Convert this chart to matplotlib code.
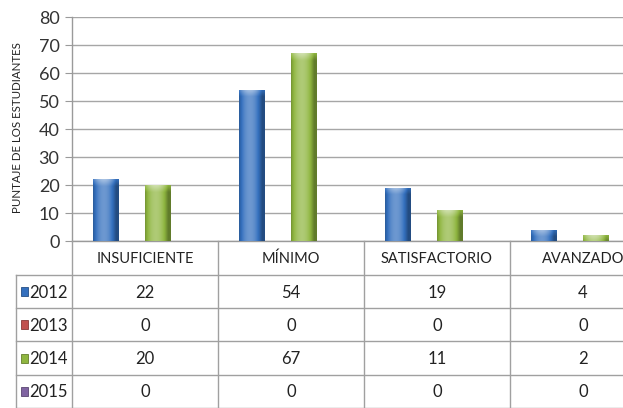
import numpy as np
import matplotlib
matplotlib.use('Agg')
import matplotlib.pyplot as plt
from matplotlib.colors import to_rgb

categories = ['INSUFICIENTE', 'MÍNIMO', 'SATISFACTORIO', 'AVANZADO']
years = ['2012', '2013', '2014', '2015']
v2012 = [22, 54, 19, 4]
v2013 = [0, 0, 0, 0]
v2014 = [20, 67, 11, 2]
v2015 = [0, 0, 0, 0]
yticks = [0, 10, 20, 30, 40, 50, 60, 70, 80]
ylabel = 'PUNTAJE DE LOS ESTUDIANTES'

series = [v2012, v2013, v2014, v2015]
base_colors = ['#3470BE', '#C0504D', '#8FB640', '#8064A2']

W, H = 623, 408
plt.rcParams['font.family'] = ['Lato', 'DejaVu Sans']
fig = plt.figure(figsize=(W / 100, H / 100), dpi=100)
fig.patch.set_facecolor('white')

ax_l, ax_t, ax_b = 72, 17, 241
col_w = 146
ax = fig.add_axes([ax_l / W, (H - ax_b) / H, 4 * col_w / W, (ax_b - ax_t) / H])
ax.set_xlim(-0.5, 3.5)
ax.set_ylim(0, 80)
ax.set_yticks(yticks)
ax.set_xticks([])
ax.tick_params(axis='y', length=5, color='#9a9a9a', labelsize=13, labelcolor='#333333', pad=4)
ax.grid(axis='y', color='#a6a6a6', linewidth=1)
ax.set_axisbelow(True)
for s in ['top', 'right']:
    ax.spines[s].set_visible(False)
for s in ['left', 'bottom']:
    ax.spines[s].set_color('#9a9a9a')
    ax.spines[s].set_linewidth(1)

bw = 0.178
x = np.arange(len(categories))
offsets = [-1.5 * bw, -0.5 * bw, 0.5 * bw, 1.5 * bw]

def shade(c, f):
    c = np.array(to_rgb(c))
    if f >= 0:
        return c + (1 - c) * f
    return c * (1 + f)

px_per_unit = (ax_b - ax_t) / 80.0
for vals, off, col in zip(series, offsets, base_colors):
    bars = ax.bar(x + off, vals, width=bw, color=col, zorder=3)
    for rect, v in zip(bars, vals):
        if v <= 0:
            continue
        nx, ny = 40, 200
        u = np.linspace(0, 1, nx)
        prof = np.clip(0.28 - 2.6 * (u - 0.42) ** 2, -0.32, 0.28)
        img = np.zeros((ny, nx, 3))
        ys = np.linspace(v, 0, ny)
        bevel = 7 / px_per_unit
        for j in range(ny):
            d = v - ys[j]
            extra = 0.3 * (1 - d / bevel) if d < bevel else 0
            for i in range(nx):
                f = prof[i] + extra
                img[j, i] = np.clip(shade(col, f), 0, 1)
        x0 = rect.get_x()
        im = ax.imshow(img, extent=[x0, x0 + bw, 0, v], aspect='auto', zorder=3.5,
                       interpolation='bilinear')
        im.set_clip_path(rect)
ax.set_xlim(-0.5, 3.5)
ax.set_ylim(0, 80)

fig.text(18 / W, 1 - 128 / H, ylabel, rotation=90, ha='center', va='center',
         fontsize=8.3, color='#222222')

# table overlay
tax = fig.add_axes([0, 0, 1, 1])
tax.set_xlim(0, W)
tax.set_ylim(H, 0)
tax.axis('off')
tax.patch.set_visible(False)

def to_px(xd):
    d = ax.transData.transform((xd, 0))
    return d[0]

lc = '#a0a0a0'
header_bot = 275
row_h = 33.2
row_tops = [header_bot + k * row_h for k in range(len(years))]
lab_l = 16
right = W + 50
for yy in row_tops:
    tax.plot([lab_l, right], [yy, yy], color=lc, lw=1)
tax.plot([lab_l, right], [H - 0.5, H - 0.5], color=lc, lw=1)
tax.plot([lab_l, lab_l], [header_bot, H], color=lc, lw=1)
tax.plot([ax_l, ax_l], [ax_b, H], color=lc, lw=1)
for k in range(1, len(categories) + 1):
    xb = to_px(k - 0.5)
    tax.plot([xb, xb], [ax_b, H], color=lc, lw=1)

for k, cat in enumerate(categories):
    cx = to_px(k)
    tax.text(cx, (ax_b + header_bot) / 2 + 1, cat, ha='center', va='center',
             fontsize=10.5, color='#222222')
    for r, vals in enumerate(series):
        cy = row_tops[r] + row_h / 2 + 1
        tax.text(cx, cy, str(vals[k]), ha='center', va='center', fontsize=12, color='#222222')

for r, (yr, col) in enumerate(zip(years, base_colors)):
    cy = row_tops[r] + row_h / 2
    tax.add_patch(plt.Rectangle((21, cy - 4.5), 7, 9, facecolor=col, edgecolor=shade(col, -0.3), lw=0.6))
    tax.text(29, cy + 1, yr, ha='left', va='center', fontsize=12, color='#222222')

fig.savefig('out.png', dpi=100, facecolor='white')
